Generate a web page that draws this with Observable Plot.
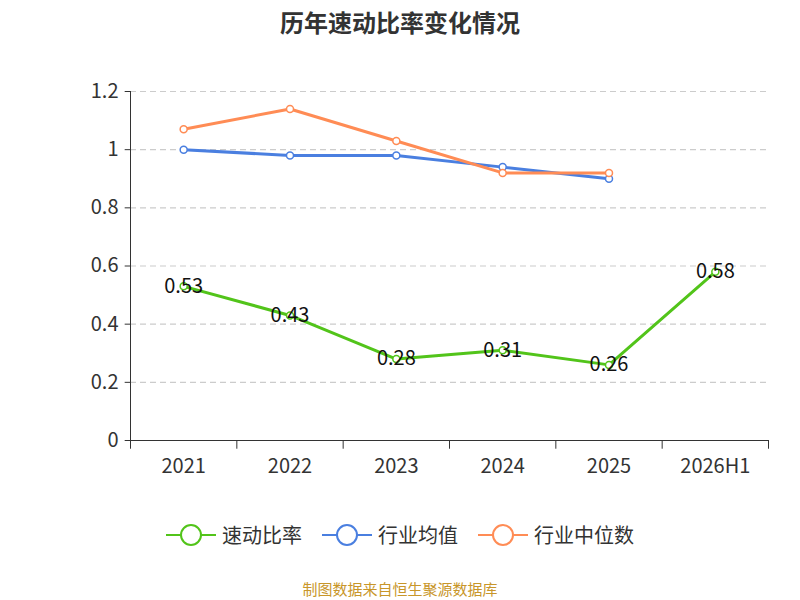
<!DOCTYPE html>
<html><head><meta charset="utf-8">
<script src="https://cdn.jsdelivr.net/npm/d3@7"></script>
<script src="https://cdn.jsdelivr.net/npm/@observablehq/plot@0.6"></script>
<style>
body{margin:0;font-family:"Noto Sans CJK SC","Noto Sans",sans-serif;}
#wrap{position:relative;width:800px;height:600px;}
#title{position:absolute;top:4px;left:0;width:800px;text-align:center;font-size:24px;font-weight:bold;color:#333;}
#legend{position:absolute;top:520px;left:0;width:800px;text-align:center;font-size:20px;color:#333;}
#legend span{display:inline-flex;align-items:center;margin:0 10px;}
#legend svg{margin-right:6px}
#cap{position:absolute;top:578px;left:0;width:800px;text-align:center;font-size:15px;color:#c8962a;}
</style></head><body>
<div id="wrap"><div id="title">历年速动比率变化情况</div><div id="chart"></div>
<div id="legend"></div><div id="cap">制图数据来自恒生聚源数据库</div></div>
<script>
const years=["2021","2022","2023","2024","2025","2026H1"];
const quick=[0.53,0.43,0.28,0.31,0.26,0.58];
const avg=[1.0,0.98,0.98,0.94,0.90];
const med=[1.07,1.14,1.03,0.92,0.92];
const yTicks=[0,0.2,0.4,0.6,0.8,1,1.2];
const names=["速动比率","行业均值","行业中位数"];
const colors=["#52c41a","#4a7fe0","#ff8c55"];
const q=quick.map((v,i)=>({i,v})), a=avg.map((v,i)=>({i,v})), m=med.map((v,i)=>({i,v}));
const yr=years.map((n,i)=>({i,n}));
const bounds=d3.range(-0.5,6,1);
const p=Plot.plot({width:800,height:600,marginLeft:130,marginRight:32,marginTop:91,marginBottom:160,
 style:{fontFamily:"Noto Sans CJK SC, Noto Sans, sans-serif",fontSize:"20px",color:"#333"},
 x:{type:"linear",domain:[-0.5,5.5],axis:null},
 y:{type:"linear",domain:[0,1.2],axis:null},
 marks:[
  Plot.ruleY(yTicks.filter(d=>d>0),{stroke:"#ccc",strokeDasharray:"6,4",strokeWidth:1.2}),
  Plot.ruleY([0],{stroke:"#333"}),
  Plot.ruleX([-0.5],{stroke:"#333"}),
  Plot.ruleY(yTicks,{x1:-0.55,x2:-0.5,stroke:"#333"}),
  Plot.text(yTicks,{x:-0.5,y:d=>d,text:d=>String(d),dx:-12,textAnchor:"end",fontSize:20,fill:"#333"}),
  Plot.ruleX(bounds,{y1:0,y2:-0.03,stroke:"#333"}),
  Plot.text(yr,{x:"i",y:0,text:"n",dy:26,fontSize:20,fill:"#333"}),
  Plot.line(a,{x:"i",y:"v",stroke:colors[1],strokeWidth:3}),
  Plot.line(m,{x:"i",y:"v",stroke:colors[2],strokeWidth:3}),
  Plot.line(q,{x:"i",y:"v",stroke:colors[0],strokeWidth:3}),
  Plot.dot(a,{x:"i",y:"v",r:3.5,fill:"#fff",stroke:colors[1],strokeWidth:1.5}),
  Plot.dot(m,{x:"i",y:"v",r:3.5,fill:"#fff",stroke:colors[2],strokeWidth:1.5}),
  Plot.dot(q,{x:"i",y:"v",r:3.5,fill:"#fff",stroke:colors[0],strokeWidth:1.5}),
  Plot.text(q,{x:"i",y:"v",text:d=>d.v.toFixed(2),fontSize:20,fill:"#111"})
 ]});
document.getElementById("chart").append(p);
document.getElementById("legend").innerHTML=names.map((n,k)=>`<span><svg width="50" height="24"><line x1="0" x2="50" y1="12" y2="12" stroke="${colors[k]}" stroke-width="2"/><circle cx="25" cy="12" r="10" fill="#fff" stroke="${colors[k]}" stroke-width="2"/></svg>${n}</span>`).join("");
</script></body></html>
